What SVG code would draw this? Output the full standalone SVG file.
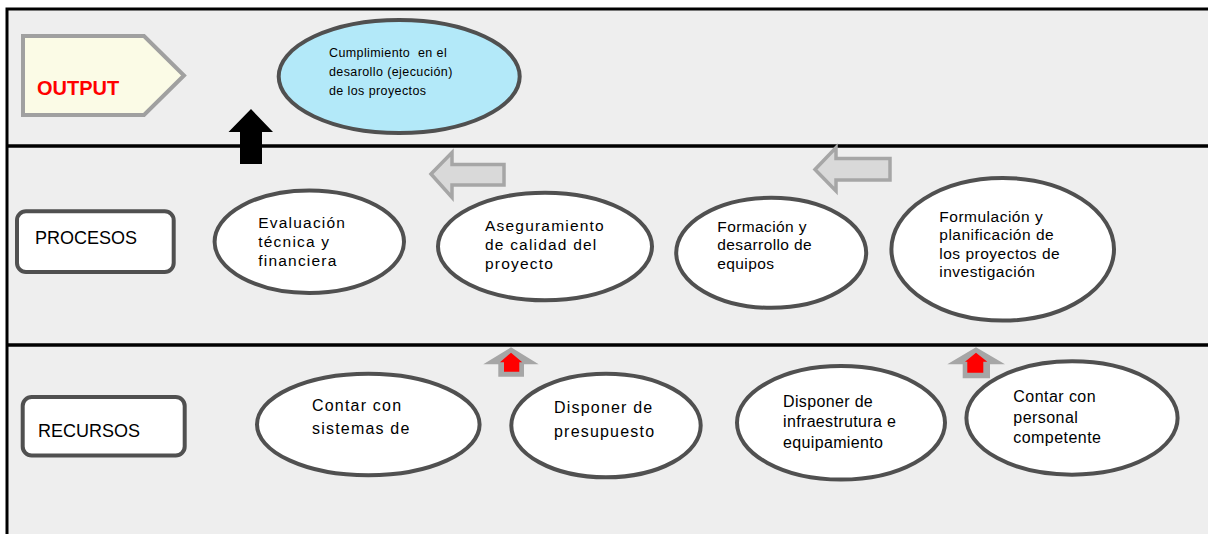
<svg xmlns="http://www.w3.org/2000/svg" width="1208" height="534" viewBox="0 0 1208 534">
  <style>
    .frame { stroke: #000; stroke-width: 3; fill: none; }
    .sep { stroke: #000; stroke-width: 3.4; }
    .oval { fill: #fff; stroke: #505050; stroke-width: 4; }
    .box { fill: #fff; stroke: #505050; stroke-width: 4; }
    .t { font-family: "Liberation Sans", Arial, sans-serif; fill: #000; }
    .mid { font-size: 15.5px; }
    .low { font-size: 16px; }
    .wide { letter-spacing: 1.2px; }
    .flow { fill: #d9d9d9; stroke: #a6a6a6; stroke-width: 3.5; stroke-linejoin: miter; }
    .feed-out { fill: #a6a6a6; }
    .feed-in { fill: #ff0000; }
  </style>

  <!-- page background and lane panel -->
  <rect x="0" y="0" width="1208" height="534" fill="#fff"/>
  <rect x="7" y="9" width="1201" height="525" fill="#eeeeee"/>
  <path class="frame" d="M7 534 V9 H1208"/>
  <line class="sep" x1="6" y1="146" x2="1208" y2="146"/>
  <line class="sep" x1="6" y1="345" x2="1208" y2="345"/>

  <!-- lane headers -->
  <g id="output-label">
    <polygon points="23,36 144,36 184,75.5 144,115 23,115" fill="#fbfbe6" stroke="#a0a0a0" stroke-width="4"/>
    <text class="t" x="37" y="95" font-size="20" font-weight="bold" fill="#ff0000" style="fill:#ff0000">OUTPUT</text>
  </g>
  <g id="procesos-label">
    <rect class="box" x="17" y="211.3" width="156.7" height="60.7" rx="9"/>
    <text class="t" x="35" y="244" font-size="18">PROCESOS</text>
  </g>
  <g id="recursos-label">
    <rect class="box" x="22.7" y="397" width="162" height="58.5" rx="9"/>
    <text class="t" x="38" y="436.5" font-size="18">RECURSOS</text>
  </g>

  <!-- output -->
  <g id="cumplimiento">
    <ellipse cx="399.2" cy="76.5" rx="120.5" ry="56.5" fill="#b3e9f9" stroke="#505050" stroke-width="4"/>
    <text class="t" font-size="12.5" letter-spacing="0.4" xml:space="preserve"><tspan x="329" y="57">Cumplimiento  en el</tspan><tspan x="329" y="76">desarollo (ejecución)</tspan><tspan x="329" y="94.5">de los proyectos</tspan></text>
  </g>

  <!-- processes -->
  <g id="evaluacion">
    <ellipse class="oval" cx="309.3" cy="241.7" rx="94.7" ry="51.3"/>
    <text class="t mid wide"><tspan x="258.3" y="227.5">Evaluación</tspan><tspan x="258.3" y="246.5">técnica y</tspan><tspan x="258.3" y="265.5">financiera</tspan></text>
  </g>
  <g id="aseguramiento">
    <ellipse class="oval" cx="545" cy="246.5" rx="107" ry="53.8"/>
    <text class="t mid wide"><tspan x="485" y="230.7">Aseguramiento</tspan><tspan x="485" y="249.7">de calidad del</tspan><tspan x="485" y="268.5">proyecto</tspan></text>
  </g>
  <g id="formacion">
    <ellipse class="oval" cx="771.2" cy="252.8" rx="95" ry="55"/>
    <text class="t mid" letter-spacing="0.4"><tspan x="717.3" y="231.7">Formación y</tspan><tspan x="717.3" y="250">desarrollo de</tspan><tspan x="717.3" y="268.5">equipos</tspan></text>
  </g>
  <g id="formulacion">
    <ellipse class="oval" cx="1002.7" cy="249.3" rx="111.3" ry="71.3"/>
    <text class="t mid" letter-spacing="0.5"><tspan x="939.3" y="221.7">Formulación y</tspan><tspan x="939.3" y="240.2">planificación de</tspan><tspan x="939.3" y="258.7">los proyectos de</tspan><tspan x="939.3" y="277.3">investigación</tspan></text>
  </g>

  <!-- resources -->
  <g id="sistemas">
    <ellipse class="oval" cx="368.3" cy="424.5" rx="111.3" ry="50.8"/>
    <text class="t low wide"><tspan x="312" y="411">Contar con</tspan><tspan x="312" y="434">sistemas de</tspan></text>
  </g>
  <g id="presupuesto">
    <ellipse class="oval" cx="606" cy="425.5" rx="94.7" ry="51.8"/>
    <text class="t low wide"><tspan x="554" y="413.3">Disponer de</tspan><tspan x="554" y="436.7">presupuesto</tspan></text>
  </g>
  <g id="infraestructura">
    <ellipse class="oval" cx="841" cy="422.8" rx="104" ry="56.8"/>
    <text class="t low" letter-spacing="0.35"><tspan x="783" y="406.7">Disponer de</tspan><tspan x="783" y="427.3">infraestrutura e</tspan><tspan x="783" y="447.5">equipamiento</tspan></text>
  </g>
  <g id="personal">
    <ellipse class="oval" cx="1072" cy="418" rx="105.6" ry="56.7"/>
    <text class="t low" letter-spacing="0.45"><tspan x="1013.3" y="402.3">Contar con</tspan><tspan x="1013.3" y="422.8">personal</tspan><tspan x="1013.3" y="443.3">competente</tspan></text>
  </g>

  <!-- connectors -->
  <g id="connectors">
    <polygon points="251,109 273,132 262,132 262,164 240,164 240,132 228.5,132" fill="#000"/>
    <polygon class="flow" points="431,174 452,152.5 452,164.5 504,164.5 504,185 452,185 452,197.5"/>
    <polygon class="flow" points="815,169.5 836,147.5 836,158.5 890,158.5 890,180 836,180 836,191"/>
    <polygon class="feed-out" points="511,347.3 538.7,364.3 524,364.3 524,376.7 498.3,376.7 498.3,364.3 483.3,364.3"/>
    <polygon class="feed-in" points="511,352.7 522.3,362.3 519.3,362.3 519.3,371.7 504,371.7 504,362.3 500,362.3"/>
    <polygon class="feed-out" points="976,347.3 1005,364.3 990,364.3 990,378.3 962.7,378.3 962.7,364.3 947.3,364.3"/>
    <polygon class="feed-in" points="976,352.7 987.3,361.7 983.3,361.7 983.3,372.7 967.3,372.7 967.3,361.7 965,361.7"/>
  </g>
</svg>
